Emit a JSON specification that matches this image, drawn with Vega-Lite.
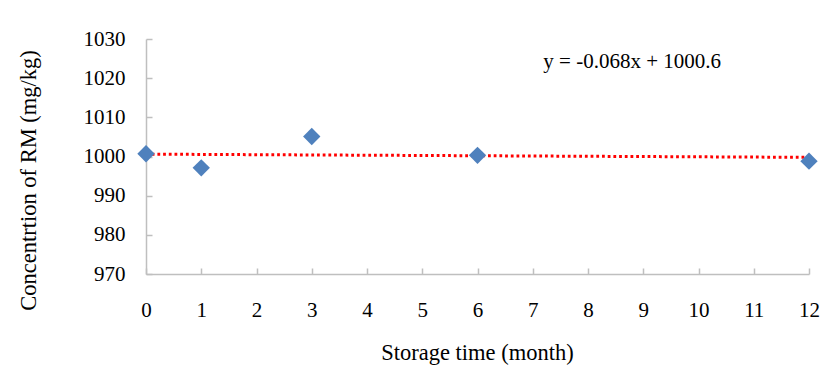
{
  "$schema": "https://vega.github.io/schema/vega-lite/v6.json",
  "width": 663,
  "height": 235,
  "autosize": {"type": "none"},
  "padding": {"left": 146, "top": 39, "right": 25, "bottom": 116},
  "background": "white",
  "config": {
    "view": {"stroke": null},
    "font": "Liberation Serif",
    "axis": {
      "labelFont": "Liberation Serif",
      "titleFont": "Liberation Serif",
      "labelFontSize": 21,
      "titleFontSize": 22.5,
      "labelColor": "#000000",
      "titleColor": "#000000",
      "titleFontWeight": "normal",
      "domainColor": "#bfbfbf",
      "domainWidth": 1.5,
      "tickColor": "#bfbfbf",
      "tickWidth": 1.5,
      "grid": false,
      "labelOverlap": false,
      "labelFlush": false,
      "format": "d"
    }
  },
  "datasets": {
    "points": [
      {"month": 0, "conc": 1000.7},
      {"month": 1, "conc": 997.1},
      {"month": 3, "conc": 1005.1},
      {"month": 6, "conc": 1000.3},
      {"month": 12, "conc": 998.8}
    ],
    "trend": [
      {"month": 0, "conc": 1000.6},
      {"month": 12, "conc": 999.784}
    ],
    "eq": [
      {"month": 8.8, "conc": 1024.2, "text": "y = -0.068x + 1000.6"}
    ]
  },
  "encoding": {
    "x": {
      "field": "month", "type": "quantitative",
      "scale": {"domain": [0, 12], "nice": false, "zero": false},
      "axis": {
        "values": [0,1,2,3,4,5,6,7,8,9,10,11,12],
        "title": "Storage time (month)",
        "tickSize": -6,
        "labelPadding": 42,
        "labelBaseline": "middle",
        "titleX": 331,
        "titleY": 78,
        "titleBaseline": "middle",
        "titleAnchor": null
      }
    },
    "y": {
      "field": "conc", "type": "quantitative",
      "scale": {"domain": [970, 1030], "nice": false, "zero": false},
      "axis": {
        "values": [970, 980, 990, 1000, 1010, 1020, 1030],
        "tickCount": 7,
        "title": "Concentrtion of RM (mg/kg)",
        "tickSize": -6,
        "labelPadding": 27,
        "titleX": -118,
        "titleY": 141,
        "titleAngle": -90,
        "titleAlign": "center",
        "titleBaseline": "middle",
        "titleAnchor": null
      }
    }
  },
  "layer": [
    {
      "data": {"name": "trend"},
      "mark": {"type": "line", "color": "#ff0000", "strokeWidth": 3, "strokeDash": [2.8, 2.9], "strokeCap": "butt"}
    },
    {
      "data": {"name": "points"},
      "mark": {"type": "point", "shape": "diamond", "filled": true, "color": "#4f81bd", "opacity": 1, "size": 300}
    },
    {
      "data": {"name": "eq"},
      "mark": {"type": "text", "font": "Liberation Serif", "fontSize": 21, "color": "#000000", "align": "center", "baseline": "middle"},
      "encoding": {
        "text": {"field": "text"}
      }
    }
  ]
}
